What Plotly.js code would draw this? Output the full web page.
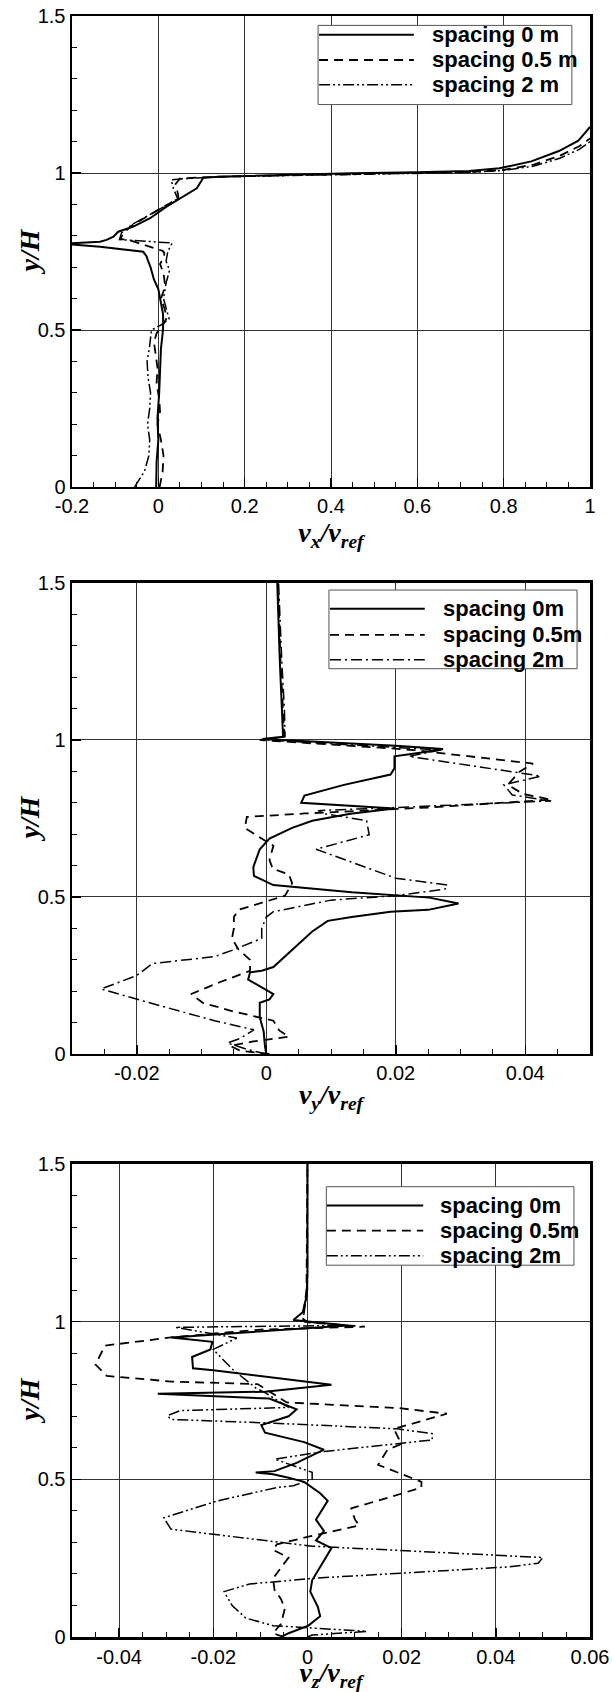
<!DOCTYPE html>
<html>
<head>
<meta charset="utf-8">
<script src="https://cdn.plot.ly/plotly-3.0.1.min.js"></script>
<style>html,body{margin:0;padding:0;background:#fff;}#chart{width:612px;height:1692px;}</style>
</head>
<body>
<div id="chart"></div>
<script>
// ---------- Panel 1: v_x / v_ref ----------
const P1_S0_X = [-0.005,-0.004,0.0,-0.002,0.002,0.004,0.006,0.010,0.011,0.011,0.008,0.004,0.0,-0.01,-0.018,-0.025,-0.027,-0.035,-0.135,-0.2,-0.2,-0.135,-0.12,-0.104,-0.093,-0.058,-0.019,0.019,0.058,0.089,0.1,0.104,0.14,0.266,0.448,0.6,0.72,0.79,0.864,0.928,0.973,0.99,1.0];
const P1_S0_Y = [0.0,0.08,0.15,0.22,0.3,0.38,0.44,0.49,0.51,0.55,0.575,0.596,0.63,0.66,0.7,0.725,0.734,0.749,0.765,0.772,0.776,0.781,0.787,0.797,0.813,0.829,0.856,0.893,0.925,0.951,0.975,0.985,0.988,0.993,0.999,1.002,1.006,1.015,1.037,1.07,1.103,1.13,1.147];
const P1_S05_X = [0.003,0.01,0.012,0.006,-0.002,0.004,0.002,-0.004,-0.002,-0.006,-0.01,-0.004,0.008,0.02,0.014,0.006,0.016,0.012,0.004,0.012,0.014,0.01,-0.06,-0.088,-0.08,-0.058,-0.02,0.015,0.046,0.046,0.04,0.05,0.1,0.14,0.27,0.45,0.6,0.72,0.8,0.87,0.93,0.975,1.0];
const P1_S05_Y = [0.0,0.05,0.1,0.15,0.2,0.24,0.28,0.33,0.38,0.42,0.46,0.49,0.51,0.54,0.57,0.6,0.64,0.68,0.71,0.73,0.745,0.752,0.783,0.79,0.81,0.836,0.867,0.895,0.918,0.93,0.965,0.982,0.986,0.988,0.992,0.997,1.0,1.003,1.01,1.027,1.055,1.085,1.11];
const P1_S2_X = [-0.055,-0.045,-0.032,-0.022,-0.02,-0.025,-0.02,-0.018,-0.024,-0.026,-0.02,-0.016,0.005,0.025,0.02,0.012,0.018,0.026,0.018,0.022,0.032,-0.03,-0.09,-0.085,-0.06,-0.02,0.012,0.045,0.035,0.03,0.06,0.1,0.14,0.27,0.45,0.6,0.72,0.8,0.87,0.93,0.975,1.0];
const P1_S2_Y = [0.0,0.02,0.05,0.1,0.15,0.2,0.25,0.3,0.35,0.4,0.45,0.5,0.515,0.535,0.56,0.6,0.65,0.69,0.72,0.75,0.777,0.782,0.788,0.81,0.837,0.867,0.893,0.918,0.95,0.978,0.982,0.986,0.988,0.991,0.996,0.999,1.002,1.008,1.022,1.047,1.075,1.1];

// ---------- Panel 2: v_y / v_ref ----------
const P2_S0_X = [0.0,-0.0002,-0.0004,-0.001,-0.001,0.0005,0.0011,-0.0013,-0.0028,-0.0025,-0.0007,0.0011,0.0023,0.0047,0.0071,0.0095,0.0132,0.0192,0.025,0.0297,0.0252,0.0132,0.0011,-0.0019,-0.002,-0.001,0.0005,0.004,0.0071,0.013,0.0198,0.0054,0.0059,0.012,0.0192,0.0198,0.0198,0.024,0.0273,0.02,0.008,-0.0006,0.0026,0.0024,0.0021,0.0017];
const P2_S0_Y = [0.0,0.026,0.072,0.117,0.163,0.174,0.191,0.22,0.237,0.26,0.265,0.277,0.30,0.345,0.39,0.424,0.436,0.453,0.459,0.479,0.498,0.515,0.538,0.567,0.595,0.652,0.686,0.72,0.743,0.765,0.782,0.80,0.823,0.857,0.89,0.91,0.948,0.96,0.971,0.982,0.993,1.003,1.01,1.1,1.25,1.5];
const P2_S05_X = [0.0005,-0.004,-0.0056,-0.002,0.0035,0.002,0.0011,-0.005,-0.0098,-0.0116,-0.007,-0.0025,-0.0025,-0.0043,-0.0053,-0.005,-0.005,-0.0043,0.0029,0.004,0.0035,0.001,0.0005,0.0011,-0.0033,-0.003,0.006,0.016,0.025,0.044,0.0397,0.0373,0.039,0.0412,0.0228,0.018,0.006,-0.001,0.0028,0.0026,0.0022,0.0018];
const P2_S05_Y = [0.0,0.01,0.026,0.04,0.055,0.075,0.106,0.135,0.163,0.191,0.23,0.265,0.30,0.333,0.368,0.40,0.436,0.459,0.504,0.544,0.572,0.59,0.618,0.663,0.72,0.755,0.766,0.775,0.785,0.81,0.828,0.857,0.897,0.925,0.968,0.975,0.99,1.0,1.01,1.1,1.25,1.5];
const P2_S2_X = [0.0,-0.003,-0.006,-0.004,-0.0019,-0.008,-0.018,-0.0255,-0.02,-0.0176,-0.008,-0.0049,-0.0007,-0.0007,0.0,0.0011,0.01,0.0198,0.0276,0.028,0.02,0.0077,0.0159,0.0155,0.009,0.008,0.02,0.044,0.038,0.0367,0.0424,0.022,0.027,0.012,-0.0008,0.0029,0.0028,0.0024,0.0019];
const P2_S2_Y = [0.0,0.015,0.035,0.05,0.077,0.106,0.163,0.207,0.25,0.288,0.31,0.333,0.368,0.40,0.436,0.453,0.49,0.504,0.525,0.538,0.56,0.652,0.698,0.743,0.765,0.775,0.785,0.806,0.825,0.857,0.885,0.948,0.968,0.985,1.001,1.012,1.1,1.25,1.5];

// ---------- Panel 3: v_z / v_ref ----------
const P3_S0_X = [-0.0056,-0.004,0.0002,0.0027,0.0022,0.0006,0.001,0.0035,0.0051,0.0018,0.0035,0.0018,0.003,0.0043,0.0027,-0.0007,-0.004,-0.0073,-0.011,-0.007,-0.0056,-0.0023,0.0035,-0.0007,-0.009,-0.0098,-0.004,-0.0023,-0.0081,-0.0318,-0.009,0.0051,-0.02,-0.0243,-0.0245,-0.0206,-0.0202,-0.0289,0.0085,-0.003,-0.001,-0.0002,0.0,0.0];
const P3_S0_Y = [0.0,0.012,0.036,0.066,0.096,0.144,0.18,0.24,0.282,0.306,0.336,0.372,0.40,0.432,0.456,0.492,0.505,0.516,0.522,0.526,0.534,0.552,0.594,0.618,0.648,0.672,0.70,0.722,0.756,0.771,0.778,0.80,0.846,0.852,0.888,0.912,0.936,0.95,0.988,1.005,1.03,1.08,1.15,1.5];
const P3_S05_X = [-0.005,-0.0073,-0.0056,-0.0048,-0.0056,-0.007,-0.0073,-0.004,-0.0073,-0.0065,0.0002,0.011,0.0101,0.0093,0.0176,0.0242,0.0242,0.0193,0.015,0.017,0.02,0.019,0.0184,0.0296,0.0193,-0.0044,-0.0106,-0.0289,-0.0426,-0.045,-0.043,-0.029,-0.01,0.0122,0.0,-0.001,-0.0002,0.0];
const P3_S05_Y = [0.0,0.012,0.042,0.09,0.12,0.15,0.186,0.252,0.276,0.294,0.318,0.354,0.372,0.408,0.444,0.474,0.492,0.522,0.546,0.594,0.612,0.64,0.66,0.708,0.726,0.744,0.802,0.81,0.828,0.864,0.924,0.95,0.975,0.984,0.998,1.01,1.1,1.5];
const P3_S2_X = [0.0,0.001,0.0126,-0.0073,-0.0131,-0.016,-0.0177,-0.0123,0.001,0.0425,0.049,0.05,0.001,-0.029,-0.0305,-0.019,-0.0065,-0.003,0.001,0.001,-0.0069,0.0035,0.0265,0.0265,0.019,-0.007,-0.029,-0.0297,-0.027,-0.004,-0.009,-0.011,-0.016,-0.02,-0.015,-0.028,0.0085,-0.001,0.0,0.0];
const P3_S2_Y = [0.0,0.006,0.018,0.036,0.06,0.10,0.144,0.168,0.186,0.222,0.234,0.252,0.288,0.342,0.378,0.432,0.474,0.48,0.50,0.522,0.564,0.588,0.625,0.645,0.66,0.678,0.69,0.702,0.718,0.728,0.775,0.79,0.85,0.912,0.948,0.982,0.988,1.0,1.1,1.5];

// ---------- Labels & ticks ----------
const LEGEND1 = ['spacing 0 m','spacing 0.5 m','spacing 2 m'];
const LEGEND2 = ['spacing 0m','spacing 0.5m','spacing 2m'];
const LEGEND3 = ['spacing 0m','spacing 0.5m','spacing 2m'];
const Y_TICKS = [0,0.5,1,1.5];
const Y_TEXT = ['0','0.5','1','1.5'];
const X1_TICKS = [-0.2,0,0.2,0.4,0.6,0.8,1];
const X1_TEXT = ['-0.2','0','0.2','0.4','0.6','0.8','1'];
const X2_TICKS = [-0.02,0,0.02,0.04];
const X2_TEXT = ['-0.02','0','0.02','0.04'];
const X3_TICKS = [-0.04,-0.02,0,0.02,0.04,0.06];
const X3_TEXT = ['-0.04','-0.02','0','0.02','0.04','0.06'];
const Y_TITLE = '<b><i>y/H</i></b>';
const X_TITLES = ['<b><i>v<sub>x</sub>/v<sub>ref</sub></i></b>', '<b><i>v<sub>y</sub>/v<sub>ref</sub></i></b>', '<b><i>v<sub>z</sub>/v<sub>ref</sub></i></b>'];

const DASH_SOLID = 'solid';
const DASH_DASH = '9px,6px';
const DASH_DDD = '11px,3px,2px,3px,2px,3px';
const DASH_DD = '11px,4px,2px,4px';

function tr(x, y, xa, ya, dash, w, name) {
  return {x: x, y: y, xaxis: xa, yaxis: ya, type: 'scatter', mode: 'lines', name: name,
          line: {color: '#000', width: w, dash: dash}, showlegend: false, hoverinfo: 'skip'};
}
const data = [
  tr(P1_S0_X, P1_S0_Y, 'x', 'y', DASH_SOLID, 2, LEGEND1[0]),
  tr(P1_S05_X, P1_S05_Y, 'x', 'y', DASH_DASH, 1.8, LEGEND1[1]),
  tr(P1_S2_X, P1_S2_Y, 'x', 'y', DASH_DDD, 1.5, LEGEND1[2]),
  tr(P2_S0_X, P2_S0_Y, 'x2', 'y2', DASH_SOLID, 2, LEGEND2[0]),
  tr(P2_S05_X, P2_S05_Y, 'x2', 'y2', DASH_DASH, 1.8, LEGEND2[1]),
  tr(P2_S2_X, P2_S2_Y, 'x2', 'y2', DASH_DD, 1.5, LEGEND2[2]),
  tr(P3_S0_X, P3_S0_Y, 'x3', 'y3', DASH_SOLID, 2, LEGEND3[0]),
  tr(P3_S05_X, P3_S05_Y, 'x3', 'y3', DASH_DASH, 1.8, LEGEND3[1]),
  tr(P3_S2_X, P3_S2_Y, 'x3', 'y3', DASH_DDD, 1.5, LEGEND3[2])
];

const tickFont = {family: 'Liberation Sans, Arial, sans-serif', size: 20, color: '#000'};
const titleFont = {family: 'Liberation Serif, Times New Roman, serif', size: 28, color: '#000'};

function xax(range, tv, tt, minorD, anchor, title) {
  return {range: range, anchor: anchor, tickmode: 'array', tickvals: tv, ticktext: tt,
    ticks: 'inside', ticklen: 9, tickwidth: 1.5, tickcolor: '#000',
    showline: true, linewidth: 2.5, linecolor: '#000', mirror: true,
    showgrid: true, gridcolor: '#333', gridwidth: 1, zeroline: false,
    tickfont: tickFont, fixedrange: true,
    minor: {tickmode: 'linear', tick0: 0, dtick: minorD, ticks: 'inside', ticklen: 5, tickwidth: 1, tickcolor: '#000', showgrid: false},
    title: {text: title, font: titleFont, standoff: 1}};
}
function yax(domain, anchor) {
  return {domain: domain, anchor: anchor, range: [0, 1.5], tickmode: 'array', tickvals: Y_TICKS, ticktext: Y_TEXT,
    ticks: 'inside', ticklen: 9, tickwidth: 1.5, tickcolor: '#000',
    showline: true, linewidth: 2.5, linecolor: '#000', mirror: true,
    showgrid: true, gridcolor: '#333', gridwidth: 1, zeroline: false,
    tickfont: tickFont, fixedrange: true,
    minor: {tickmode: 'linear', tick0: 0, dtick: 0.1, ticks: 'inside', ticklen: 5, tickwidth: 1, tickcolor: '#000', showgrid: false}};
}

// legend geometry in axis-domain fractions
const LEG_BOX = [
  {x0: 0.475, x1: 0.965, y0: 0.812, y1: 0.980, rows: [0.960, 0.9066, 0.854], lx0: 0.477, lx1: 0.660, tx: 0.692},
  {x0: 0.496, x1: 0.975, y0: 0.818, y1: 0.985, rows: [0.9454, 0.890, 0.837], lx0: 0.498, lx1: 0.681, tx: 0.712},
  {x0: 0.491, x1: 0.969, y0: 0.786, y1: 0.952, rows: [0.9125, 0.859, 0.806], lx0: 0.492, lx1: 0.678, tx: 0.707}
];
const LEG_LABELS = [LEGEND1, LEGEND2, LEGEND3];
const LEG_DASH = [[DASH_SOLID, DASH_DASH, DASH_DDD], [DASH_SOLID, DASH_DASH, DASH_DD], [DASH_SOLID, DASH_DASH, DASH_DDD]];
const LEG_W = [2, 1.8, 1.5];
const shapes = [], annotations = [];
['', '2', '3'].forEach(function (s, i) {
  const g = LEG_BOX[i];
  const xr = 'x' + s + ' domain', yr = 'y' + s + ' domain';
  shapes.push({type: 'rect', xref: xr, yref: yr, x0: g.x0, x1: g.x1, y0: g.y0, y1: g.y1,
    line: {color: '#555', width: 1}, fillcolor: '#fff', layer: 'above'});
  for (let k = 0; k < 3; k++) {
    shapes.push({type: 'line', xref: xr, yref: yr, x0: g.lx0, x1: g.lx1, y0: g.rows[k], y1: g.rows[k],
      line: {color: '#000', width: LEG_W[k], dash: LEG_DASH[i][k]}, layer: 'above'});
    annotations.push({xref: xr, yref: yr, x: g.tx, y: g.rows[k], xanchor: 'left', yanchor: 'middle',
      text: '<b>' + LEG_LABELS[i][k] + '</b>', showarrow: false,
      font: {family: 'Liberation Sans, Arial, sans-serif', size: 22, color: '#000'}});
  }
  // y-axis title, rotated, placed left of the tick labels
  annotations.push({xref: xr, yref: yr, x: 0, y: 0.5, xshift: -43, xanchor: 'center', yanchor: 'middle',
    textangle: -90, text: Y_TITLE, showarrow: false, font: titleFont});
});

const layout = {
  width: 612, height: 1692,
  margin: {l: 72, r: 22, t: 16, b: 55},
  paper_bgcolor: '#fff', plot_bgcolor: '#fff',
  showlegend: false,
  xaxis: xax([-0.2, 1], X1_TICKS, X1_TEXT, 0.05, 'y', X_TITLES[0]),
  yaxis: yax([0.70944, 1], 'x'),
  xaxis2: xax([-0.03, 0.05], X2_TICKS, X2_TEXT, 0.005, 'y2', X_TITLES[1]),
  yaxis2: yax([0.35966, 0.65022], 'x2'),
  xaxis3: xax([-0.05, 0.06], X3_TICKS, X3_TEXT, 0.005, 'y3', X_TITLES[2]),
  yaxis3: yax([0, 0.29180], 'x3'),
  shapes: shapes,
  annotations: annotations
};
Plotly.newPlot('chart', data, layout, {staticPlot: true, displayModeBar: false});
</script>
</body>
</html>
